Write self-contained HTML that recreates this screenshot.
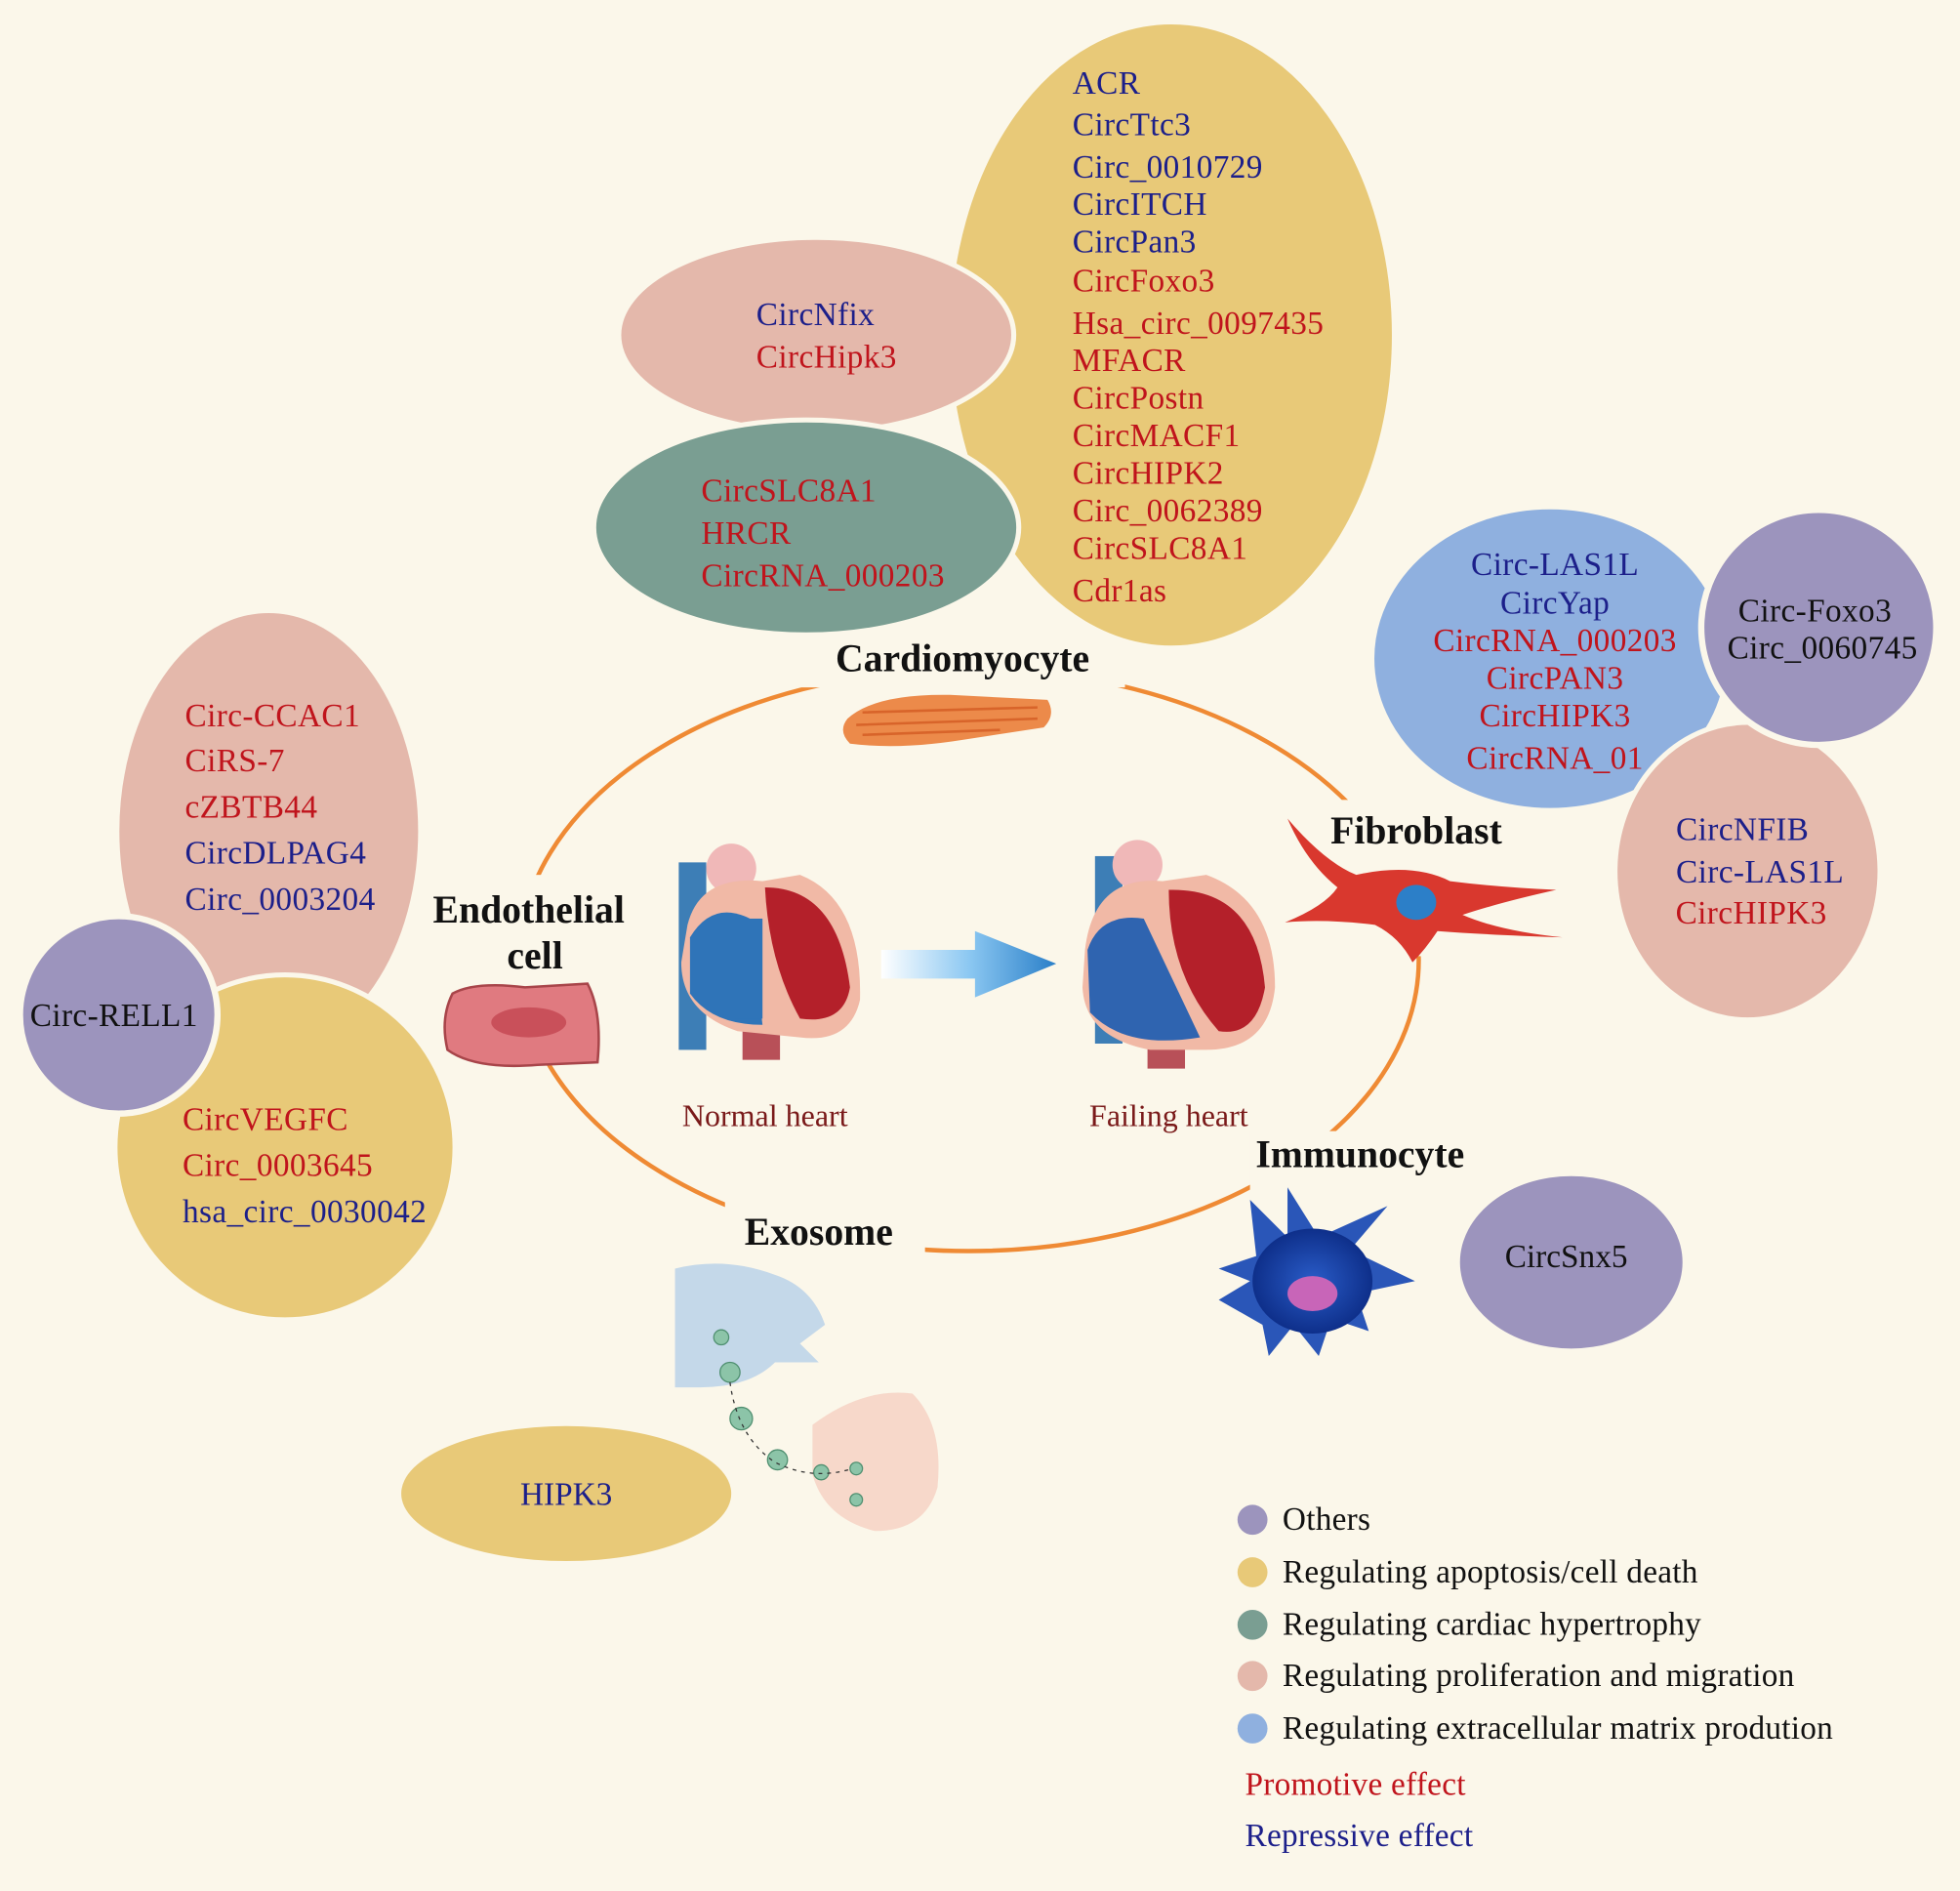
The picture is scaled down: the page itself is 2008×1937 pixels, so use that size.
<!DOCTYPE html>
<html><head><meta charset="utf-8"><style>
html,body{margin:0;padding:0;background:#fbf7ea;}
svg{display:block}
text{font-family:"Liberation Serif",serif;}
.b{fill:#1c1f8a}.r{fill:#c0141c}.k{fill:#111}
</style></head><body>
<svg width="2008" height="1937" viewBox="0 0 1568 1513" preserveAspectRatio="none" xmlns="http://www.w3.org/2000/svg">
<defs>
<linearGradient id="ar" x1="0" x2="1"><stop offset="0" stop-color="#fff"/><stop offset="0.5" stop-color="#8cc8f2"/><stop offset="1" stop-color="#2a7fc8"/></linearGradient>
<radialGradient id="imm"><stop offset="0" stop-color="#2a5cc8"/><stop offset="1" stop-color="#0e2f8a"/></radialGradient>
</defs>
<rect width="1568" height="1513" fill="#fbf7ea"/>
<ellipse cx="775" cy="768" rx="360" ry="233" fill="none" stroke="#ef8a34" stroke-width="3.5"/>
<rect x="635" y="505" width="265" height="45" fill="#fbf7ea"/>
<rect x="395" y="700" width="40" height="140" fill="#fbf7ea"/>
<rect x="1045" y="640" width="180" height="125" fill="#fbf7ea"/>
<rect x="1000" y="905" width="200" height="60" fill="#fbf7ea"/>
<rect x="580" y="960" width="160" height="45" fill="#fbf7ea"/>
<ellipse cx="937" cy="268" rx="178" ry="250" fill="#e8c978" stroke="#fbf7ea" stroke-width="3"/>
<ellipse cx="653" cy="268" rx="158" ry="78" fill="#e4b8ab" stroke="#fbf7ea" stroke-width="4"/>
<ellipse cx="645" cy="422" rx="170" ry="86" fill="#7a9e92" stroke="#fbf7ea" stroke-width="4"/>
<g font-size="26" letter-spacing="0.3">
<text x="858" y="75" class="b">ACR</text>
<text x="858" y="108" class="b">CircTtc3</text>
<text x="858" y="142" class="b">Circ_0010729</text>
<text x="858" y="172" class="b">CircITCH</text>
<text x="858" y="202" class="b">CircPan3</text>
<text x="858" y="233" class="r">CircFoxo3</text>
<text x="858" y="267" class="r">Hsa_circ_0097435</text>
<text x="858" y="297" class="r">MFACR</text>
<text x="858" y="327" class="r">CircPostn</text>
<text x="858" y="357" class="r">CircMACF1</text>
<text x="858" y="387" class="r">CircHIPK2</text>
<text x="858" y="417" class="r">Circ_0062389</text>
<text x="858" y="447" class="r">CircSLC8A1</text>
<text x="858" y="481" class="r">Cdr1as</text>
<text x="605" y="260" class="b">CircNfix</text>
<text x="605" y="294" class="r">CircHipk3</text>
<text x="561" y="401" class="r">CircSLC8A1</text>
<text x="561" y="435" class="r">HRCR</text>
<text x="561" y="469" class="r">CircRNA_000203</text>
</g>
<ellipse cx="215" cy="665" rx="121" ry="176" fill="#e4b8ab" stroke="#fbf7ea" stroke-width="3"/>
<ellipse cx="228" cy="918" rx="136" ry="138" fill="#e8c978" stroke="#fbf7ea" stroke-width="4"/>
<circle cx="95" cy="812" r="79" fill="#9c94bd" stroke="#fbf7ea" stroke-width="5"/>
<g font-size="26" letter-spacing="0.3">
<text x="148" y="581" class="r">Circ-CCAC1</text>
<text x="148" y="617" class="r">CiRS-7</text>
<text x="148" y="654" class="r">cZBTB44</text>
<text x="148" y="691" class="b">CircDLPAG4</text>
<text x="148" y="728" class="b">Circ_0003204</text>
<text x="24" y="821" class="k">Circ-RELL1</text>
<text x="146" y="904" class="r">CircVEGFC</text>
<text x="146" y="941" class="r">Circ_0003645</text>
<text x="146" y="978" class="b">hsa_circ_0030042</text>
</g>
<ellipse cx="1240" cy="527" rx="142" ry="121" fill="#8fb0df" stroke="#fbf7ea" stroke-width="3"/>
<ellipse cx="1398" cy="697" rx="106" ry="119" fill="#e4b8ab" stroke="#fbf7ea" stroke-width="4"/>
<circle cx="1455" cy="502" r="94" fill="#9c94bd" stroke="#fbf7ea" stroke-width="5"/>
<g font-size="26" letter-spacing="0.3" text-anchor="middle">
<text x="1244" y="460" class="b">Circ-LAS1L</text>
<text x="1244" y="491" class="b">CircYap</text>
<text x="1244" y="521" class="r">CircRNA_000203</text>
<text x="1244" y="551" class="r">CircPAN3</text>
<text x="1244" y="581" class="r">CircHIPK3</text>
<text x="1244" y="615" class="r">CircRNA_01</text>
<text x="1452" y="497" class="k">Circ-Foxo3</text>
<text x="1458" y="527" class="k">Circ_0060745</text>
<text x="1394" y="672" class="b">CircNFIB</text>
<text x="1408" y="706" class="b">Circ-LAS1L</text>
<text x="1401" y="739" class="r">CircHIPK3</text>
</g>
<ellipse cx="1257" cy="1010" rx="89" ry="69" fill="#9c94bd"/>
<text x="1253" y="1014" font-size="26" text-anchor="middle" class="k">CircSnx5</text>
<ellipse cx="453" cy="1195" rx="132" ry="54" fill="#e8c978"/>
<text x="453" y="1204" font-size="26" text-anchor="middle" class="b">HIPK3</text>
<g font-size="31" font-weight="bold" class="k">
<text x="770" y="537" text-anchor="middle" class="k">Cardiomyocyte</text>
<text x="423" y="738" text-anchor="middle" class="k">Endothelial</text>
<text x="428" y="775" text-anchor="middle" class="k">cell</text>
<text x="1133" y="675" text-anchor="middle" class="k">Fibroblast</text>
<text x="1088" y="934" text-anchor="middle" class="k">Immunocyte</text>
<text x="655" y="996" text-anchor="middle" class="k">Exosome</text>
</g>
<text x="612" y="901" font-size="25" text-anchor="middle" fill="#7a1a1a">Normal heart</text>
<text x="935" y="901" font-size="25" text-anchor="middle" fill="#7a1a1a">Failing heart</text>
<path d="M678 575 Q700 555 760 556 L838 560 Q845 572 835 582 L770 592 Q720 600 680 595 Q670 585 678 575Z" fill="#ec8a4a"/>
<path d="M690 570 L830 566 M685 580 L830 575 M690 588 L800 584" stroke="#d8642a" stroke-width="2"/>
<path d="M362 795 Q380 785 420 790 L470 787 Q482 810 478 850 L430 852 Q380 856 358 840 Q352 815 362 795Z" fill="#e07a80" stroke="#a8454a" stroke-width="2"/>
<ellipse cx="423" cy="818" rx="30" ry="12" fill="#c9505a"/>
<path d="M1030 655 Q1060 690 1085 700 Q1130 690 1160 705 Q1200 710 1245 712 Q1200 722 1170 732 Q1200 745 1250 750 Q1190 748 1150 745 Q1140 760 1130 770 Q1120 750 1100 740 Q1060 735 1028 738 Q1060 725 1070 710 Q1045 690 1030 655Z" fill="#d9382e"/>
<ellipse cx="1133" cy="722" rx="16" ry="14" fill="#2c7fc8"/>
<path d="M1000 960 L1030 990 L1030 950 L1055 990 L1110 965 L1080 1000 L1132 1025 L1085 1035 L1095 1065 L1065 1055 L1055 1085 L1035 1060 L1015 1085 L1010 1060 L975 1040 L1000 1025 L975 1015 L1005 1005Z" fill="#2a56b8"/>
<ellipse cx="1050" cy="1025" rx="48" ry="42" fill="url(#imm)"/>
<ellipse cx="1050" cy="1035" rx="20" ry="14" fill="#c865b8"/>
<path d="M540 1015 Q580 1005 620 1020 Q650 1030 660 1060 L640 1075 L655 1090 L620 1090 Q600 1110 560 1110 L540 1110Z" fill="#b7cfe8" opacity="0.8"/>
<path d="M650 1140 Q690 1110 730 1115 Q755 1140 750 1190 Q740 1225 700 1225 Q660 1215 650 1180Z" fill="#f6d2c4" opacity="0.85"/>
<g fill="#8cc4a8" stroke="#4f8f70"><circle cx="577" cy="1070" r="6"/><circle cx="584" cy="1098" r="8"/><circle cx="593" cy="1135" r="9"/><circle cx="622" cy="1168" r="8"/><circle cx="657" cy="1178" r="6"/><circle cx="685" cy="1175" r="5"/><circle cx="685" cy="1200" r="5"/></g>
<path d="M584 1106 Q590 1150 620 1170 Q650 1185 682 1175" fill="none" stroke="#333" stroke-dasharray="3 4"/>
<g>
<rect x="543" y="690" width="22" height="150" fill="#3d7eb6"/>
<rect x="594" y="800" width="30" height="48" fill="#b85058"/>
<circle cx="585" cy="695" r="20" fill="#f0b8b8"/>
<path d="M550 740 Q560 700 610 705 L640 700 Q690 720 688 800 Q680 835 640 830 L590 825 Q545 810 545 770Z" fill="#f1b9a6"/>
<path d="M552 750 Q570 720 600 735 L610 820 Q570 820 552 795Z" fill="#2f74b8"/>
<path d="M612 710 Q670 710 680 790 Q675 820 640 815 Q615 770 612 710Z" fill="#b4202a"/>
<rect x="588" y="735" width="22" height="80" fill="#2f74b8"/>
</g>
<g>
<rect x="876" y="685" width="22" height="150" fill="#3d7eb6"/>
<rect x="918" y="810" width="30" height="45" fill="#b85058"/>
<circle cx="910" cy="692" r="20" fill="#f0b8b8"/>
<path d="M868 760 Q875 700 930 705 L965 700 Q1020 720 1020 790 Q1015 840 965 840 L920 840 Q868 830 866 790Z" fill="#f1b9a6"/>
<path d="M870 760 Q880 730 915 735 L960 830 Q900 840 872 810Z" fill="#2f64b0"/>
<path d="M935 712 Q1005 710 1012 790 Q1005 830 975 825 Q935 780 935 712Z" fill="#b4202a"/>
</g>
<path d="M705 760 L780 760 L780 745 L845 771 L780 798 L780 783 L705 783Z" fill="url(#ar)"/>
<circle cx="1002" cy="1216" r="12" fill="#9c94bd"/>
<circle cx="1002" cy="1258" r="12" fill="#e8c978"/>
<circle cx="1002" cy="1300" r="12" fill="#7a9e92"/>
<circle cx="1002" cy="1341" r="12" fill="#e4b8ab"/>
<circle cx="1002" cy="1383" r="12" fill="#8fb0df"/>
<g font-size="26" letter-spacing="0.2" class="k">
<text x="1026" y="1224" class="k">Others</text>
<text x="1026" y="1266" class="k">Regulating apoptosis/cell death</text>
<text x="1026" y="1308" class="k">Regulating cardiac hypertrophy</text>
<text x="1026" y="1349" class="k">Regulating proliferation and migration</text>
<text x="1026" y="1391" class="k">Regulating extracellular matrix prodution</text>
<text x="996" y="1436" class="r">Promotive effect</text>
<text x="996" y="1477" class="b">Repressive effect</text>
</g>
</svg>
</body></html>
